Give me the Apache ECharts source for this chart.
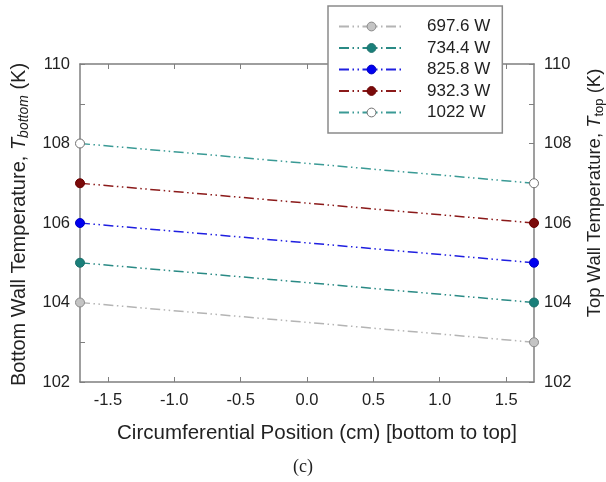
<!DOCTYPE html>
<html>
<head>
<meta charset="utf-8">
<script src="https://cdn.jsdelivr.net/npm/echarts@6/dist/echarts.min.js"></script>
<style>
html,body{margin:0;padding:0;background:#fff;}
#c{width:606px;height:482px;}
</style>
</head>
<body>
<div id="c"></div>
<script>
// Data
const seriesNames = ['697.6 W', '734.4 W', '825.8 W', '932.3 W', '1022 W'];
const xPositions = [-1.71, 1.71];
const temp697 = [104, 103];
const temp734 = [105, 104];
const temp826 = [106, 105];
const temp932 = [107, 106];
const temp1022 = [108, 107];
const xTickValues = [-1.5, -1.0, -0.5, 0.0, 0.5, 1.0, 1.5];

const seriesValues = [temp697, temp734, temp826, temp932, temp1022];
const lineColors = ['#b4b4b4', '#2a8a85', '#1f1fe0', '#8b1a1a', '#3a9a95'];
const markerFill = ['#c4c4c4', '#1a7f7a', '#0000f0', '#7a0a0a', '#ffffff'];
const markerBorder = ['#8a8a8a', '#1a6f6a', '#0000c0', '#6a0000', '#707070'];

const axisColor = '#7f7f7f';
const labelColor = '#222';
const font = 'Liberation Sans, Arial, sans-serif';

const chart = echarts.init(document.getElementById('c'), null, {renderer: 'canvas'});

const series = seriesNames.map((name, i) => ({
  name: name,
  type: 'line',
  clip: false,
  symbol: 'circle',
  symbolSize: 9,
  data: xPositions.map((x, j) => [x, seriesValues[i][j]]),
  lineStyle: {color: lineColors[i], width: 1.5, type: [10, 3.5, 1.5, 3.5, 1.5, 3.5]},
  itemStyle: {color: markerFill[i], borderColor: markerBorder[i], borderWidth: 1},
  emphasis: {disabled: true},
  z: 3
}));

const yCommon = {
  type: 'value', min: 102, max: 110, interval: 2,
  axisLine: {show: true, onZero: false, lineStyle: {color: axisColor, width: 1.5}},
  axisTick: {show: true, inside: true, length: 5, lineStyle: {color: axisColor}},
  minorTick: {show: true, splitNumber: 2, length: 5, lineStyle: {color: axisColor}},
  splitLine: {show: false},
  axisLabel: {color: labelColor, fontSize: 16.5, fontFamily: font, margin: 10},
  nameLocation: 'middle',
  nameRotate: 90
};

const option = {
  animation: false,
  backgroundColor: '#fff',
  grid: {left: 80, right: 72, top: 64, bottom: 100, containLabel: false, outerBoundsMode: 'none'},
  legend: {
    orient: 'vertical',
    left: 328, top: 6,
    width: 173,
    backgroundColor: '#fff',
    borderColor: '#8a8a8a',
    borderWidth: 1.5,
    padding: [12, 12, 12, 10],
    itemWidth: 65, itemHeight: 11, itemGap: 4.5,
    itemStyle: {borderWidth: 1},
    textStyle: {fontSize: 17, fontFamily: font, color: labelColor, padding: [0, 0, 0, 18]},
    data: seriesNames,
    z: 10
  },
  xAxis: [{
    type: 'value', min: -1.71, max: 1.71,
    axisLine: {show: true, onZero: false, lineStyle: {color: axisColor, width: 1.5}},
    axisTick: {show: true, inside: true, length: 5, customValues: xTickValues, lineStyle: {color: axisColor}},
    axisLabel: {color: labelColor, fontSize: 16.5, fontFamily: font, margin: 10, customValues: xTickValues,
      formatter: v => v.toFixed(1)},
    splitLine: {show: false},
    name: 'Circumferential Position (cm) [bottom to top]',
    nameLocation: 'middle', nameGap: 41,
    nameTextStyle: {fontSize: 20.5, fontFamily: font, color: labelColor, padding: [0, 0, 0, 20]}
  }, {
    type: 'value', position: 'top', min: -1.71, max: 1.71,
    axisLine: {show: true, onZero: false, lineStyle: {color: axisColor, width: 1.5}},
    axisTick: {show: true, inside: true, length: 5, customValues: xTickValues, lineStyle: {color: axisColor}},
    axisLabel: {show: false},
    splitLine: {show: false}
  }],
  yAxis: [Object.assign({}, yCommon, {
    position: 'left',
    name: '{n|Bottom Wall Temperature, }{i|T}{s|bottom}{n| (K)}',
    nameGap: 48,
    nameTextStyle: {
      padding: [0, 3, 0, 0],
      rich: {
        n: {fontSize: 20, fontFamily: font, color: labelColor, lineHeight: 24},
        i: {fontSize: 20, fontFamily: font, color: labelColor, fontStyle: 'italic', lineHeight: 24},
        s: {fontSize: 14, fontFamily: font, color: labelColor, fontStyle: 'italic', lineHeight: 13, verticalAlign: 'bottom'}
      }
    }
  }), Object.assign({}, yCommon, {
    position: 'right',
    name: '{n|Top Wall Temperature, }{i|T}{s|top}{n| (K)}',
    nameGap: 50,
    nameTextStyle: {
      padding: [0, 0, 0, 60],
      rich: {
        n: {fontSize: 18.5, fontFamily: font, color: labelColor, lineHeight: 22},
        i: {fontSize: 18.5, fontFamily: font, color: labelColor, fontStyle: 'italic', lineHeight: 22},
        s: {fontSize: 13, fontFamily: font, color: labelColor, lineHeight: 12, verticalAlign: 'bottom'}
      }
    }
  })],
  graphic: [{
    type: 'text', left: 'center', top: 458,
    style: {text: '(c)', font: '18px "Liberation Serif", "Times New Roman", serif', fill: '#222'}
  }],
  series: series
};

chart.setOption(option);
</script>
</body>
</html>
